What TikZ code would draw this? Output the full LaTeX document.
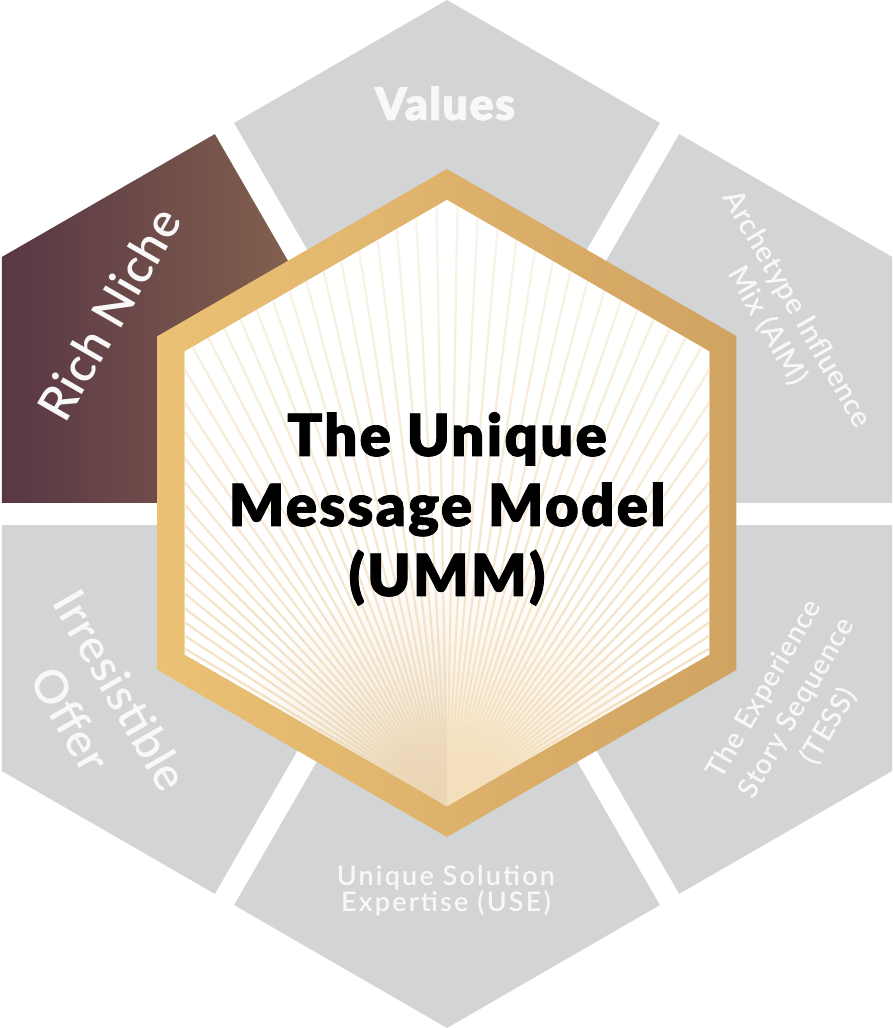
\documentclass[tikz,border=0pt]{standalone}
\usepackage{fontspec}
\setmainfont{Lato}
\newfontfamily\semifont{Lato Semibold}
\newfontfamily\blackfont{Lato Black}[FakeBold=1.5]
\usetikzlibrary{fadings}
\definecolor{segGray}{RGB}{211,212,214}
\definecolor{nicheL}{RGB}{76,42,66}
\definecolor{nicheR}{RGB}{143,108,80}
\definecolor{goldL}{RGB}{235,193,117}
\definecolor{goldR}{RGB}{208,163,97}
\definecolor{rayBeige}{RGB}{242,222,188}
\definecolor{glowL}{RGB}{234,213,180}
\definecolor{glowR}{RGB}{245,224,188}
\definecolor{labelWhite}{RGB}{248,248,248}
\tikzfading[name=glowfade, inner color=transparent!0, outer color=transparent!100]
\tikzset{
  segment/.style={fill=segGray},
  gap/.style={draw=white, line width=22pt},
  ray/.style={draw=rayBeige, line width=2.2pt},
  seglabel/.style={text=labelWhite, align=center, inner sep=0pt},
  title/.style={align=center, inner sep=0pt, font=\blackfont\fontsize{58}{70}\selectfont\addfontfeature{LetterSpace=4}}
}

\begin{document}
\begin{tikzpicture}[x=1pt, y=1pt]
    \useasboundingbox (-447,-514) rectangle (446,514);
    % grey segments round the ring
    \foreach \a in {90,30,-30,-90,-150}
        \fill[segment] (0,0) -- (\a-30:445.1) -- (\a:514) -- (\a+30:445.1) -- cycle;
    % rich niche segment
    \begin{scope}
        \clip (0,0) -- (120:445.1) -- (150:514) -- (180:445.1) -- cycle;
        \shade[left color=nicheL, right color=nicheR] (-530,-10) rectangle (-70,520);
    \end{scope}
    % white gaps
    \foreach \a in {0,60,...,300}
        \draw[gap] (0,0) -- (\a:530);
    % gold frame and sunburst
    \begin{scope}[shift={(0,11)}]
        \shade[left color=goldL, right color=goldR] (90:334) -- (150:334) -- (210:334) -- (270:334) -- (330:334) -- (30:334) -- cycle;
        \fill[white] (90:303) -- (150:303) -- (210:303) -- (270:303) -- (330:303) -- (30:303) -- cycle;
        \begin{scope}
            \clip (90:303) -- (150:303) -- (210:303) -- (270:303) -- (330:303) -- (30:303) -- cycle;
            \foreach \a in {31,33,...,149}
                \draw[ray] (270:303) -- ++(\a:700);
            \begin{scope}
                \clip (-310,-310) rectangle (0,0);
                \fill[glowL, path fading=glowfade] (270:303) circle (230);
            \end{scope}
            \begin{scope}
                \clip (0,-310) rectangle (310,0);
                \fill[glowR, path fading=glowfade] (270:303) circle (230);
            \end{scope}
            \fill[white, path fading=south, fill opacity=0.72] (-310,-300) rectangle (310,330);
        \end{scope}
    \end{scope}
    \node[title] (umm) at (0,5) {The Unique\\Message Model\\(UMM)};
    % labels
    \node[seglabel, anchor=base, font=\blackfont\fontsize{45}{50}\selectfont\addfontfeature{LetterSpace=3}] (values) at (-2,394) {Values};
    \node[seglabel, rotate=60, font=\semifont\fontsize{48}{58}\selectfont\addfontfeature{LetterSpace=2}] (niche) at (-338,200) {Rich Niche};
    \node[seglabel, rotate=-60, font=\semifont\fontsize{29}{34}\selectfont\addfontfeature{LetterSpace=2}] (aim) at (335,196) {Archetype Influence\\Mix (AIM)};
    \node[seglabel, rotate=60, font=\semifont\fontsize{28}{37}\selectfont\addfontfeature{LetterSpace=3}] (tess) at (350,-194) {The Experience\\Story Sequence\\(TESS)};
    \node[seglabel, font=\semifont\fontsize{27}{26}\selectfont\addfontfeature{LetterSpace=8}] (use) at (-1,-377) {Unique Solution\\Expertise (USE)};
    \node[seglabel, rotate=-60, font=\semifont\fontsize{46}{58}\selectfont\addfontfeature{LetterSpace=2}] (offer) at (-351,-191) {Irresistible\\Offer};
\end{tikzpicture}
\end{document}
